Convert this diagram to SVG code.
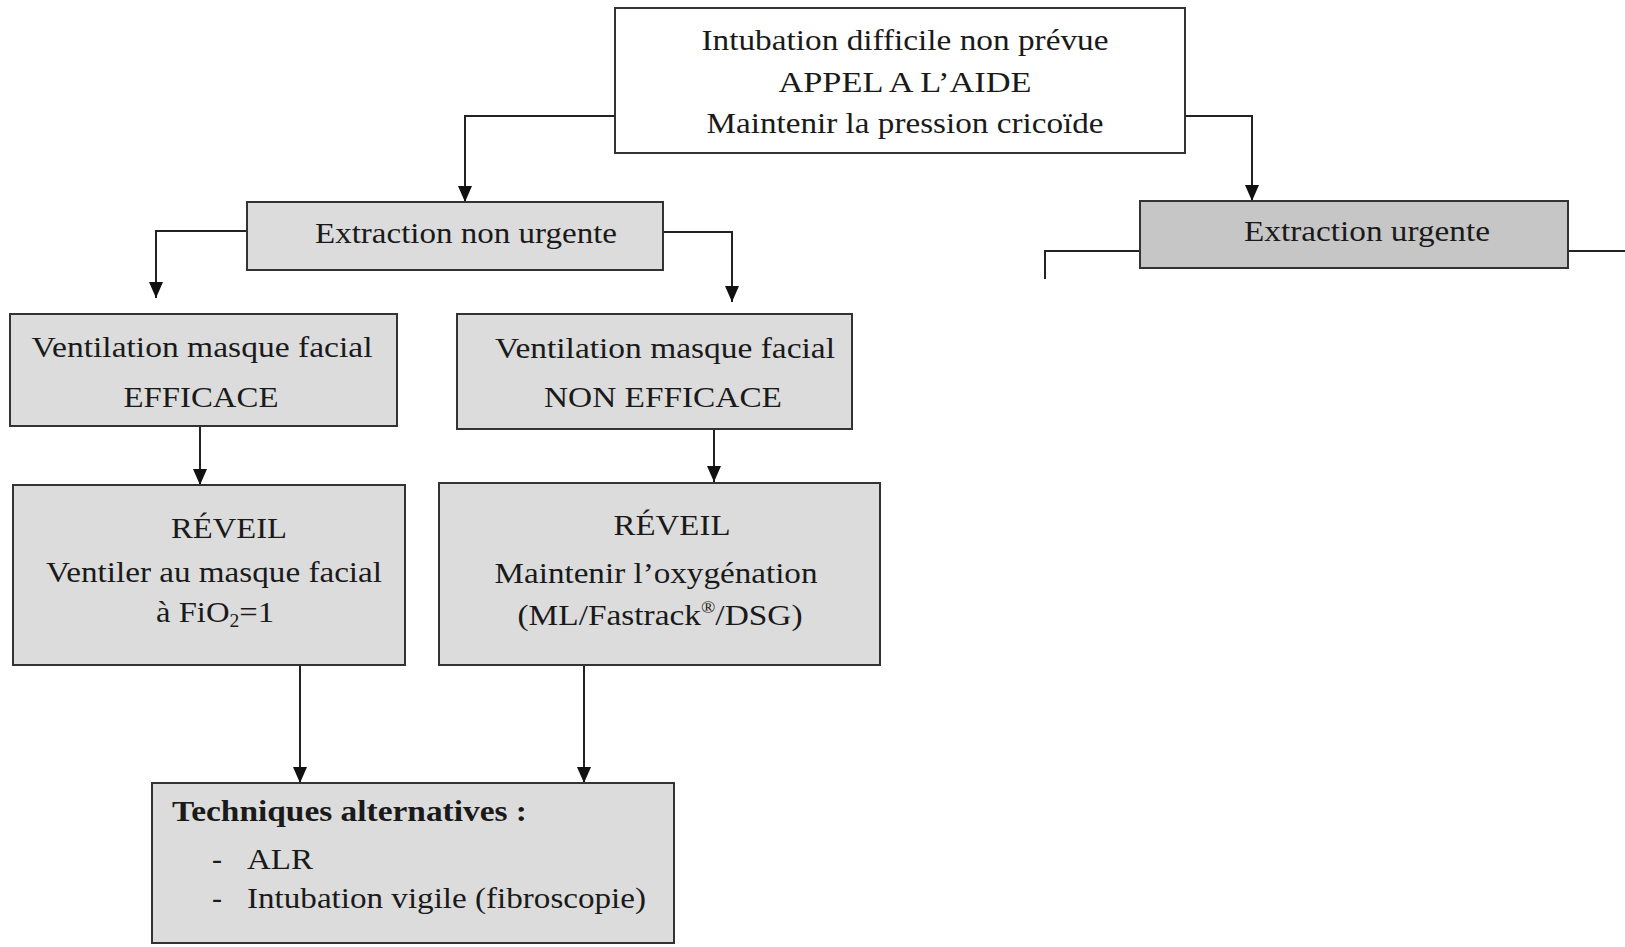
<svg xmlns="http://www.w3.org/2000/svg" width="1625" height="947" viewBox="0 0 1625 947">
<style>
.box{stroke:#333;stroke-width:2;fill:#dcdcdc}
.white{fill:#fff}
.dark{fill:#c6c6c6}
text{font-family:"Liberation Serif","Times New Roman",serif;font-size:30px;fill:#1a1a1a}
.c{text-anchor:middle}
.b{font-weight:bold}
.conn{fill:none;stroke:#222;stroke-width:2}
</style>
<defs>
<marker id="arr" viewBox="0 0 16 14" refX="16" refY="7" markerWidth="16" markerHeight="14" markerUnits="userSpaceOnUse" orient="auto">
<path d="M0,0 L16,7 L0,14 z" fill="#111"/>
</marker>
</defs>
<rect width="1625" height="947" fill="#fff"/>
<g id="connectors">
<path class="conn" d="M614,116 H465 V202" marker-end="url(#arr)"/>
<path class="conn" d="M1185,116 H1252 V201" marker-end="url(#arr)"/>
<path class="conn" d="M247,231 H156 V298" marker-end="url(#arr)"/>
<path class="conn" d="M663,232 H732 V302" marker-end="url(#arr)"/>
<path class="conn" d="M200,426 V485" marker-end="url(#arr)"/>
<path class="conn" d="M714,429 V482" marker-end="url(#arr)"/>
<path class="conn" d="M300,665 V783" marker-end="url(#arr)"/>
<path class="conn" d="M584,665 V783" marker-end="url(#arr)"/>
<path class="conn" d="M1140,251 H1045 V279"/>
<path class="conn" d="M1568,251 H1625"/>
</g>
<g id="n-top">
<rect class="box white" x="615" y="8" width="570" height="145"/>
<text class="c" x="905" y="50" textLength="407" lengthAdjust="spacingAndGlyphs">Intubation difficile non prévue</text>
<text class="c" x="905" y="92" textLength="253" lengthAdjust="spacingAndGlyphs">APPEL A L’AIDE</text>
<text class="c" x="905" y="133" textLength="397" lengthAdjust="spacingAndGlyphs">Maintenir la pression cricoïde</text>
</g>
<g id="n-enu">
<rect class="box" x="247" y="202" width="416" height="68"/>
<text class="c" x="466" y="243" textLength="302" lengthAdjust="spacingAndGlyphs">Extraction non urgente</text>
</g>
<g id="n-eu">
<rect class="box dark" x="1140" y="201" width="428" height="67"/>
<text class="c" x="1367" y="241" textLength="246" lengthAdjust="spacingAndGlyphs">Extraction urgente</text>
</g>
<g id="n-eff">
<rect class="box" x="10" y="314" width="387" height="112"/>
<text class="c" x="202" y="357" textLength="341" lengthAdjust="spacingAndGlyphs">Ventilation masque facial</text>
<text class="c" x="201" y="407" textLength="155" lengthAdjust="spacingAndGlyphs">EFFICACE</text>
</g>
<g id="n-noneff">
<rect class="box" x="457" y="314" width="395" height="115"/>
<text class="c" x="665" y="358" textLength="340" lengthAdjust="spacingAndGlyphs">Ventilation masque facial</text>
<text class="c" x="663" y="407" textLength="238" lengthAdjust="spacingAndGlyphs">NON EFFICACE</text>
</g>
<g id="n-reveil1">
<rect class="box" x="13" y="485" width="392" height="180"/>
<text class="c" x="229" y="538" textLength="116" lengthAdjust="spacingAndGlyphs">RÉVEIL</text>
<text class="c" x="214" y="582" textLength="336" lengthAdjust="spacingAndGlyphs">Ventiler au masque facial</text>
<text class="c" x="215" y="622" textLength="118" lengthAdjust="spacingAndGlyphs">à FiO<tspan font-size="18" dy="5">2</tspan><tspan dy="-5">=1</tspan></text>
</g>
<g id="n-reveil2">
<rect class="box" x="439" y="483" width="441" height="182"/>
<text class="c" x="672" y="535" textLength="117" lengthAdjust="spacingAndGlyphs">RÉVEIL</text>
<text class="c" x="656" y="583" textLength="323" lengthAdjust="spacingAndGlyphs">Maintenir l’oxygénation</text>
<text class="c" x="660" y="625" textLength="285" lengthAdjust="spacingAndGlyphs">(ML/Fastrack<tspan font-size="17" dy="-12">®</tspan><tspan dy="12">/DSG)</tspan></text>
</g>
<g id="n-tech">
<rect class="box" x="152" y="783" width="522" height="160"/>
<text class="b" x="172" y="821" textLength="355" lengthAdjust="spacingAndGlyphs">Techniques alternatives :</text>
<text x="212" y="869">-</text>
<text x="247" y="869" textLength="66" lengthAdjust="spacingAndGlyphs">ALR</text>
<text x="212" y="908">-</text>
<text x="247" y="908" textLength="399" lengthAdjust="spacingAndGlyphs">Intubation vigile (fibroscopie)</text>
</g>
</svg>
